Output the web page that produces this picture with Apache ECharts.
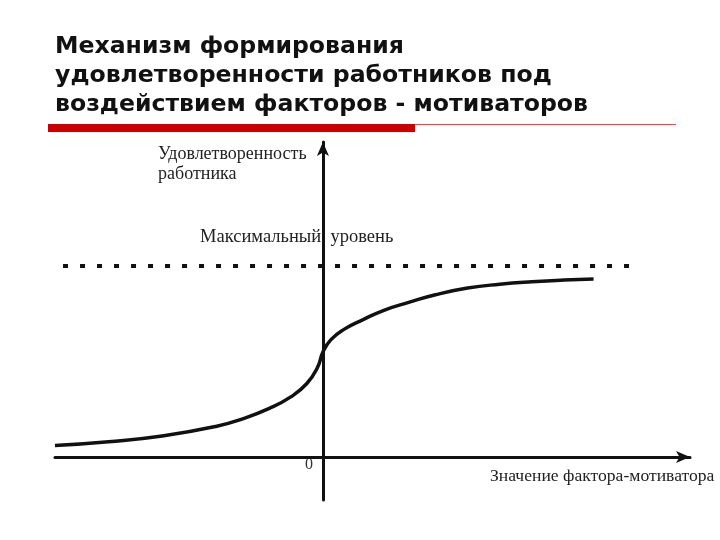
<!DOCTYPE html>
<html>
<head>
<meta charset="utf-8">
<script src="https://cdn.jsdelivr.net/npm/echarts@6/dist/echarts.min.js"></script>
<style>
  html, body { margin: 0; padding: 0; background: #fff; }
  #chart { width: 720px; height: 540px; }
</style>
</head>
<body>
<div id="chart"></div>
<script>
var myChart = echarts.init(document.getElementById('chart'));

var titleLines = [
    'Механизм формирования',
    'удовлетворенности работников под',
    'воздействием факторов - мотиваторов'
];

// factor value (x) and satisfaction (y)
var factorValues = [-10, -8, -6, -4, -3, -2, -1.2, -0.6, -0.2, 0, 0.3, 0.8, 1.5, 2.3, 3.2, 4.2, 5.4, 6.6, 7.8, 9.0, 10.1];
var satisfaction = [0.6, 0.8, 1.1, 1.6, 2.0, 2.55, 3.15, 3.85, 4.7, 5.5, 6.15, 6.7, 7.2, 7.7, 8.1, 8.5, 8.85, 9.05, 9.18, 9.27, 9.32];

var maxLevel = 10;
var maxLevelSpan = [-9.7, 11.5];

var yAxisName = 'Удовлетворенность\nработника';
var xAxisName = 'Значение фактора-мотиватора';
var maxLevelName = 'Максимальный  уровень';
var zeroLabel = '0';

var curveData = factorValues.map(function (x, i) {
    return [x, satisfaction[i]];
});

var serif = '"Liberation Serif", "DejaVu Serif", serif';

myChart.setOption({
    backgroundColor: '#fff',
    animation: false,
    grid: {
        left: 55,
        right: 30,
        top: 142,
        bottom: 40
    },
    xAxis: {
        type: 'value',
        min: -10,
        max: 13.7,
        splitLine: {show: false},
        axisTick: {show: false},
        axisLabel: {show: false},
        axisLine: {
            onZero: true,
            symbol: ['none', 'arrow'],
            symbolSize: [9, 14],
            lineStyle: {color: '#111', width: 3}
        }
    },
    yAxis: {
        type: 'value',
        min: -2.25,
        max: 16.5,
        splitLine: {show: false},
        axisTick: {show: false},
        axisLabel: {show: false},
        axisLine: {
            onZero: true,
            symbol: ['none', 'arrow'],
            symbolSize: [9, 14],
            lineStyle: {color: '#111', width: 3}
        }
    },
    graphic: [
        {
            type: 'text', left: 55, top: 32,
            style: {
                text: titleLines.join('\n'),
                font: 'bold 23.6px "DejaVu Sans", sans-serif',
                lineHeight: 29,
                fill: '#111'
            }
        },
        {
            type: 'rect', shape: {x: 48, y: 124, width: 367, height: 8},
            style: {fill: '#cc0000'}
        },
        {
            type: 'line', shape: {x1: 415, y1: 124.5, x2: 676, y2: 124.5},
            style: {stroke: '#c55', lineWidth: 1}
        },
        {
            type: 'text', left: 158, top: 144,
            style: {text: yAxisName, font: '18px ' + serif, lineHeight: 20, fill: '#222'}
        },
        {
            type: 'text', left: 200, top: 228,
            style: {text: maxLevelName, font: '18.5px ' + serif, fill: '#222'}
        },
        {
            type: 'text', left: 490, top: 467,
            style: {text: xAxisName, font: '17.6px ' + serif, fill: '#222'}
        },
        {
            type: 'text', left: 305, top: 457,
            style: {text: zeroLabel, font: '16px ' + serif, fill: '#333'}
        }
    ],
    series: [
        {
            type: 'line',
            data: [[maxLevelSpan[0], maxLevel], [maxLevelSpan[1], maxLevel]],
            symbol: 'none',
            lineStyle: {color: '#111', width: 4, type: [5, 12]},
            silent: true
        },
        {
            type: 'line',
            data: curveData,
            smooth: 0.5,
            symbol: 'none',
            lineStyle: {color: '#111', width: 3.5},
            silent: true
        }
    ]
});
</script>
</body>
</html>
